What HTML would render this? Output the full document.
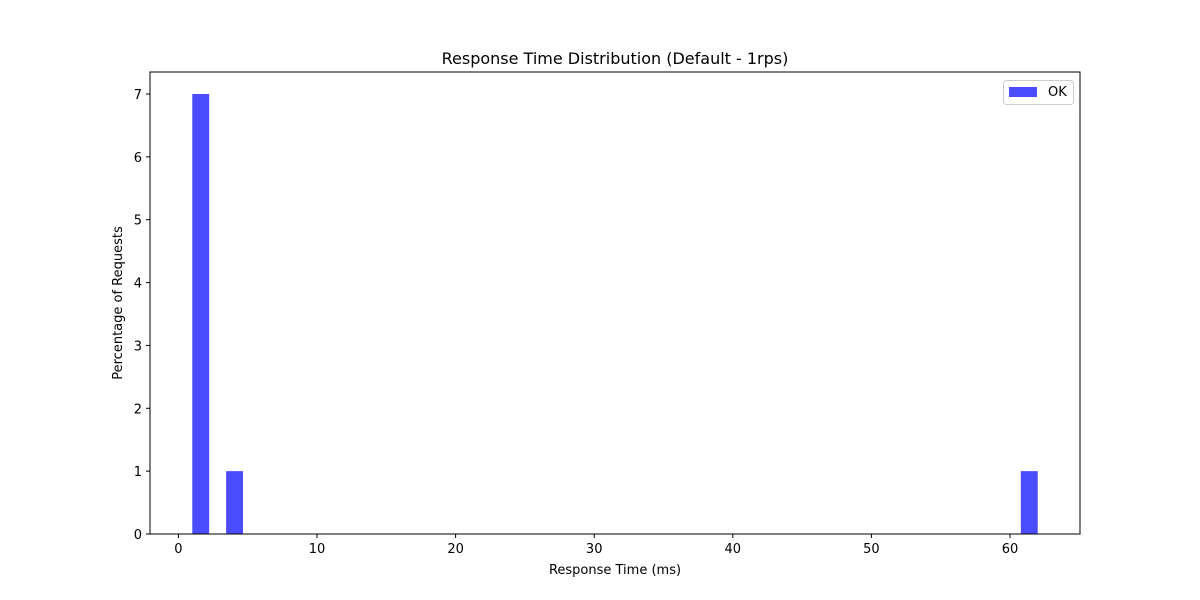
<!DOCTYPE html>
<html><head><meta charset="utf-8"><style>
body{margin:0;background:#fff;}
svg{display:block;font-family:"DejaVu Sans","Liberation Sans",sans-serif;}
</style></head><body>
<svg id="chart" width="1200" height="600">
<rect width="1200" height="600" fill="#fff"/>
<text x="615" y="64" font-size="16" text-anchor="middle">Response Time Distribution (Default - 1rps)</text>
<g id="bars"></g>
<g id="xticks"></g>
<g id="yticks"></g>
<rect x="150" y="72" width="930" height="462" fill="none" stroke="#000" stroke-width="1"/>
<text x="615" y="574" font-size="13" text-anchor="middle">Response Time (ms)</text>
<text transform="translate(122,303) rotate(-90)" font-size="13" text-anchor="middle">Percentage of Requests</text>
<g>
<rect x="1003.5" y="80.5" width="70" height="24" rx="3" fill="#fff" stroke="#ccc"/>
<rect x="1009" y="87" width="28" height="10" fill="#0000ff" fill-opacity="0.7"/>
<text x="1048" y="96" font-size="13">OK</text>
</g>
</svg>
<script>
const binStarts=[1.0,3.44,60.78];
const counts=[7,1,1];
const binWidth=1.22;
const xTicks=[0,10,20,30,40,50,60];
const yTicks=[0,1,2,3,4,5,6,7];
const NS="http://www.w3.org/2000/svg";
const xMin=-2.05,xMax=65.05,yMax=7.35;
const L=150,R=1080,T=72,B=534;
const xs=v=>L+(v-xMin)/(xMax-xMin)*(R-L);
const ys=v=>B-v/yMax*(B-T);
function mk(t,a,p){const e=document.createElementNS(NS,t);for(const k in a)e.setAttribute(k,a[k]);p.appendChild(e);return e;}
const bars=document.getElementById('bars');
binStarts.forEach((s,i)=>{
 const r=mk('rect',{x:xs(s),y:ys(counts[i]),width:xs(s+binWidth)-xs(s),height:ys(0)-ys(counts[i]),fill:'#0000ff','fill-opacity':0.7},bars);
 
 
});
const xg=document.getElementById('xticks');
xTicks.forEach(v=>{
 const x=xs(v);
 mk('line',{x1:x,x2:x,y1:B,y2:B+4,stroke:'#000'},xg);
 const t=mk('text',{x:x,y:B+19,'font-size':13,'text-anchor':'middle'},xg);t.textContent=v;
 
 
});
const yg=document.getElementById('yticks');
yTicks.forEach(v=>{
 const y=ys(v);
 mk('line',{x1:L-4,x2:L,y1:y,y2:y,stroke:'#000'},yg);
 const t=mk('text',{x:L-8,y:y+5,'font-size':13,'text-anchor':'end'},yg);t.textContent=v;
 
 
});
</script>
</body></html>
